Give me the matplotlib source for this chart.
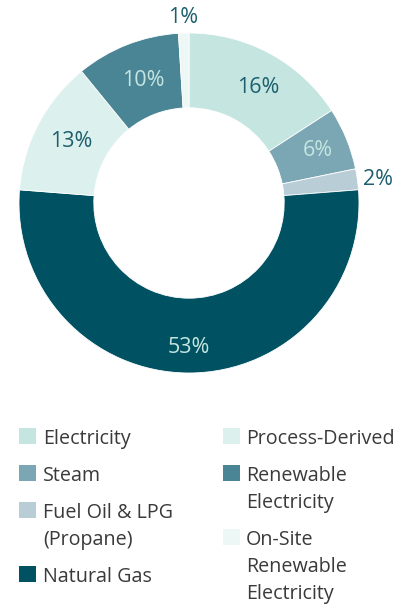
import matplotlib
matplotlib.use("Agg")
import matplotlib.pyplot as plt
from matplotlib.patches import Rectangle
import numpy as np

categories = ["Electricity", "Steam", "Fuel Oil & LPG (Propane)", "Natural Gas",
              "Process-Derived", "Renewable Electricity", "On-Site Renewable Electricity"]
legend_labels = ["Electricity", "Steam", "Fuel Oil & LPG\n(Propane)", "Natural Gas",
                 "Process-Derived", "Renewable\nElectricity", "On-Site\nRenewable\nElectricity"]
values = [16, 6, 2, 53, 13, 10, 1]
pct_labels = ["16%", "6%", "2%", "53%", "13%", "10%", "1%"]
colors = ["#c4e5e0", "#7ba6b3", "#b8cdd6", "#005262", "#dcf0ed", "#4a8595", "#edf7f5"]
label_colors = ["#1d5f6e", "#c4e5e0", "#1d5f6e", "#c4e5e0", "#1d5f6e", "#c4e5e0", "#1d5f6e"]
label_radius = [0.79, 0.82, 1.12, 0.85, 0.78, 0.77, 1.09]
label_shift = [-2.5, 0, -1, 0, 0, -1, 0]  # small angular nudges (deg)

W, H = 412, 605
fig = plt.figure(figsize=(W / 100, H / 100), dpi=100)
FONT = "Open Sans"

cx, cy, R = 189, 203, 170
L = 1.25
S = 2 * L * R
ax = fig.add_axes([(cx - S / 2) / W, (H - cy - S / 2) / H, S / W, S / H])
ax.set_xlim(-L, L)
ax.set_ylim(-L, L)
ax.set_aspect("equal")
ax.axis("off")

wedges, _ = ax.pie(values, colors=colors, startangle=90, counterclock=False,
                   radius=1.0, wedgeprops=dict(width=0.44, edgecolor="white", linewidth=0.6),
                   normalize=True)
for w, lab, lc, lr, sh in zip(wedges, pct_labels, label_colors, label_radius, label_shift):
    ang = np.deg2rad((w.theta1 + w.theta2) / 2 + sh)
    ax.text(lr * np.cos(ang), lr * np.sin(ang), lab, ha="center", va="center",
            fontsize=15.5, color=lc, family=FONT, clip_on=False)

# legend (manual, two columns)
cols = [(19, 43, [0, 1, 2, 3]), (223, 246, [4, 5, 6])]
fs = 14.2
for sq_x, tx, idxs in cols:
    base = 444
    for i in idxs:
        lines = legend_labels[i].split("\n")
        fig.add_artist(Rectangle((sq_x / W, 1 - base / H), 17 / W, 16 / H,
                                 transform=fig.transFigure, facecolor=colors[i],
                                 edgecolor="none"))
        for k, ln in enumerate(lines):
            fig.text(tx / W, 1 - (base + 27 * k) / H, ln, ha="left", va="baseline",
                     fontsize=fs, color="#3a3a3a", family=FONT)
        base += 27 * (len(lines) - 1) + 37

fig.savefig("out.png", dpi=100)
